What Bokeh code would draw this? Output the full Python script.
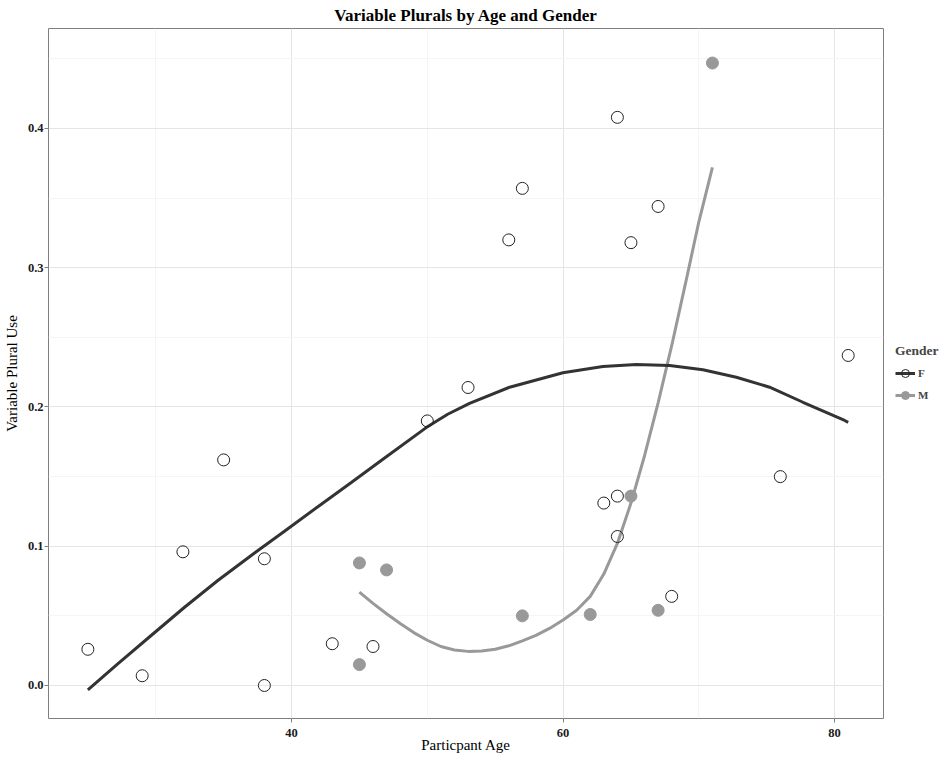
from bokeh.plotting import figure
from bokeh.models import (FixedTicker, PrintfTickFormatter, Legend, LegendItem, Title)
from bokeh.embed import file_html
from bokeh.resources import INLINE

# ---- data ----
f_age = [25, 29, 32, 35, 38, 38, 43, 46, 50, 53, 56, 57, 64, 67, 65, 63, 64, 64, 68, 76, 81]
f_use = [0.026, 0.007, 0.096, 0.162, 0.091, 0.000, 0.030, 0.028, 0.190, 0.214, 0.320,
         0.357, 0.408, 0.344, 0.318, 0.131, 0.136, 0.107, 0.064, 0.150, 0.237]

m_age = [45, 47, 45, 57, 62, 67, 65, 71]
m_use = [0.088, 0.083, 0.015, 0.050, 0.051, 0.054, 0.136, 0.447]

# smoothed (loess) curves as drawn in the reference
f_fit_age = [25.0, 27.2, 29.66, 32.12, 34.57, 37.03, 39.48, 41.94, 44.4, 46.73, 49.92,
             51.5, 53.11, 56.06, 59.99, 62.93, 65.39, 67.85, 70.3, 72.76, 75.21, 77.67,
             80.74, 81.0]
f_fit_use = [-0.0031, 0.0156, 0.0359, 0.0562, 0.0754, 0.0934, 0.1108, 0.1284, 0.1458,
             0.1625, 0.1852, 0.1948, 0.2026, 0.2142, 0.2246, 0.2291, 0.2305, 0.2298, 0.2267,
             0.2214, 0.2142, 0.2034, 0.1903, 0.189]

m_fit_age = [45, 46, 47, 48, 49, 50, 51, 52, 53, 54, 55, 56, 57, 58, 59, 60, 61, 62, 63,
             64, 65, 66, 67, 68, 69, 70, 71]
m_fit_use = [0.067, 0.059, 0.0515, 0.0445, 0.038, 0.0325, 0.028, 0.0255, 0.0245, 0.0248,
             0.026, 0.0285, 0.032, 0.036, 0.041, 0.047, 0.054, 0.064, 0.080, 0.102, 0.131,
             0.165, 0.203, 0.244, 0.288, 0.333, 0.372]

x_ticks = [40, 60, 80]
x_minor = [30, 50, 70]
y_ticks = [0.0, 0.1, 0.2, 0.3, 0.4]
y_minor = [0.05, 0.15, 0.25, 0.35, 0.45]

SERIF = "Liberation Serif"

p = figure(frame_width=835, frame_height=690,
           x_range=(22.1, 83.6), y_range=(-0.0237, 0.4718),
           output_backend="svg", toolbar_location=None,
           min_border_left=41, min_border_right=56, min_border_top=20, min_border_bottom=36,
           background_fill_color="white", border_fill_color="white")

p.title = Title(text="Variable Plurals by Age and Gender", align="center",
                text_font=SERIF, text_font_size="17px", text_font_style="bold",
                text_color="black", standoff=7, offset=0)

p.outline_line_color = "#7f7f7f"
p.outline_line_width = 1

for ax in (p.xaxis[0], p.yaxis[0]):
    ax.axis_line_color = None
    ax.major_tick_line_color = "#7f7f7f"
    ax.major_tick_out = 4
    ax.major_tick_in = 0
    ax.minor_tick_line_color = None
    ax.major_label_text_font = SERIF
    ax.major_label_text_font_style = "bold"
    ax.major_label_text_font_size = "12.5px"
    ax.major_label_text_color = "#1a1a1a"
    ax.axis_label_text_font = SERIF
    ax.axis_label_text_font_style = "normal"
    ax.axis_label_text_font_size = "15px"
    ax.axis_label_text_color = "black"

p.xaxis.major_label_standoff = 6
p.xaxis.axis_label_standoff = -3
p.yaxis.major_label_standoff = 1
p.yaxis.axis_label_standoff = 5

p.xaxis.ticker = FixedTicker(ticks=x_ticks, minor_ticks=x_minor)
p.yaxis.ticker = FixedTicker(ticks=y_ticks, minor_ticks=y_minor)
p.yaxis.formatter = PrintfTickFormatter(format="%.1f")
p.xaxis.axis_label = "Particpant Age"
p.yaxis.axis_label = "Variable Plural Use"

for g in (p.xgrid[0], p.ygrid[0]):
    g.grid_line_color = "#e5e5e5"
    g.grid_line_width = 1
    g.minor_grid_line_color = "#f5f5f5"
    g.minor_grid_line_width = 1

m_line = p.line(m_fit_age, m_fit_use, line_color="#999999", line_width=3)
f_line = p.line(f_fit_age, f_fit_use, line_color="#333333", line_width=3)
f_pts = p.scatter(f_age, f_use, size=12, marker="circle", fill_color="white",
                  fill_alpha=0.0, line_color="#222222", line_width=1)
m_pts = p.scatter(m_age, m_use, size=12, marker="circle", fill_color="#999999",
                  line_color="#999999", line_width=1)

legend = Legend(items=[LegendItem(label="F", renderers=[f_line, f_pts]),
                       LegendItem(label="M", renderers=[m_line, m_pts])],
                location=(12, 313), title="Gender",
                title_text_font=SERIF, title_text_font_size="13.5px",
                title_text_font_style="bold", title_standoff=4,
                label_text_font=SERIF, label_text_font_size="11px",
                label_text_font_style="bold", label_standoff=3,
                glyph_width=20, glyph_height=20, spacing=2,
                padding=0, margin=0, border_line_color=None,
                background_fill_alpha=0.0)
p.add_layout(legend, "right")

open("out.html", "w").write(file_html(p, INLINE))
